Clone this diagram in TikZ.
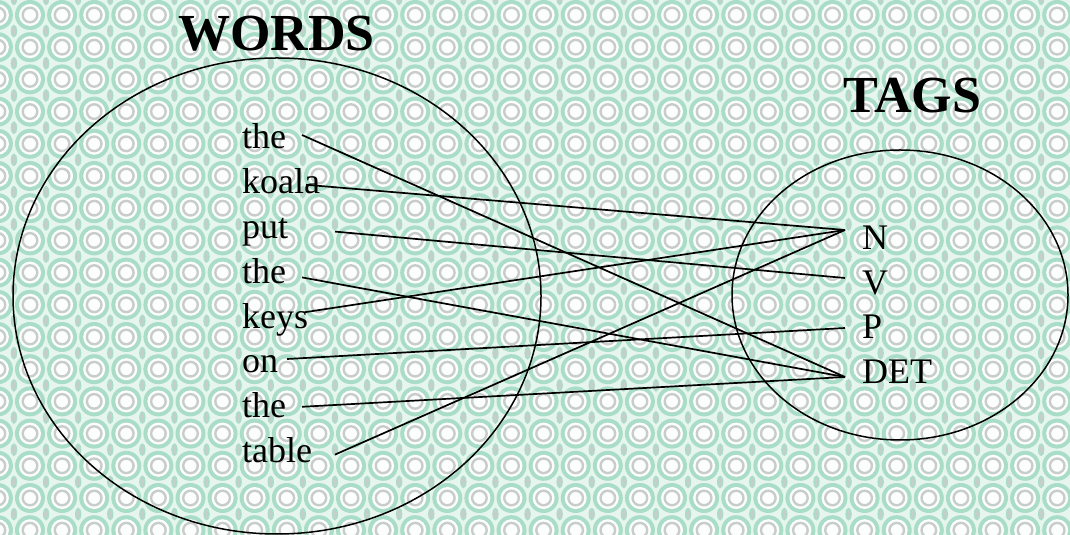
\documentclass[tikz,border=0pt]{standalone}
\usepackage{fontspec}
\setmainfont{Liberation Serif}
\usepackage{tikz}
\usetikzlibrary{positioning,calc}

\definecolor{mint}{RGB}{170,221,199}
\definecolor{paleground}{RGB}{230,246,238}
\definecolor{ringgray}{RGB}{200,205,203}

\begin{document}
\begin{tikzpicture}[
  x=1pt, y=1pt,
  word/.style={anchor=base west, inner sep=0pt, font=\fontsize{36}{40}\selectfont},
  tag/.style={anchor=base west, inner sep=0pt, font=\fontsize{36}{40}\selectfont},
  title/.style={anchor=base west, inner sep=0pt, font=\fontsize{52}{56}\selectfont\bfseries},
  link/.style={line width=1.7pt, black},
  set/.style={line width=1.5pt, black}]

\useasboundingbox (0,0) rectangle (1070,535);

% ---- the patterned ground -------------------------------------------------
\begin{scope}
  \clip (0,0) rectangle (1070,535);
  \fill[paleground] (0,0) rectangle (1070,535);
  \foreach \i in {-1,...,33}{
    \foreach \j in {-1,...,17}{
      \pgfmathsetmacro{\cx}{30+32.1*\i}
      \pgfmathsetmacro{\cy}{520-32.2*\j}
      \fill[mint] (\cx,\cy) circle (15);
      \fill[white!88!paleground] (\cx,\cy) circle (11);
      \draw[ringgray, line width=2.4pt] (\cx,\cy) circle (7.3);
      \filldraw[fill=ringgray, draw=mint, line width=1.5pt]
        (\cx+16.05,\cy-16.1) ellipse (2.5 and 5.5);
    }
  }
\end{scope}

% ---- the two sets ---------------------------------------------------------
\draw[set] (277,239) ellipse (264 and 238);
\draw[set] (900,240) ellipse (168 and 145);

\node[title] (words) at (178,484) {WORDS};
\node[title] (tags)  at (843,422) {TAGS};

% ---- the words of the sentence --------------------------------------------
\foreach \w [count=\k] in {the,koala,put,the,keys,on,the,table}
  \node[word] (w\k) at (242,{386-44.8*(\k-1)}) {\w};

% ---- the tags ---------------------------------------------------------------
\node[tag] (tN) at (862,285)   {N};
\node[tag] (tV) at (862,240.5) {V};
\node[tag] (tP) at (862,196)   {P};
\node[tag] (tD) at (862,151.5) {DET};

% where each line leaves a word, and meets a tag
\coordinate (s1) at ([shift={(60,14)}]w1.base west);
\coordinate (s2) at ([shift={(64,9)}]w2.base west);
\coordinate (s3) at ([shift={(93,7)}]w3.base west);
\coordinate (s4) at ([shift={(60,6)}]w4.base west);
\coordinate (s5) at ([shift={(63,16)}]w5.base west);
\coordinate (s6) at ([shift={(45,14)}]w6.base west);
\coordinate (s7) at ([shift={(60,11)}]w7.base west);
\coordinate (s8) at ([shift={(93,8)}]w8.base west);

\coordinate (eN) at ([shift={(-17,20)}]tN.base west);
\coordinate (eV) at ([shift={(-17,16.5)}]tV.base west);
\coordinate (eP) at ([shift={(-17,11)}]tP.base west);
\coordinate (eD) at ([shift={(-17,6.5)}]tD.base west);

% ---- the tagging --------------------------------------------------------------
\draw[link] (s1) -- (eD);
\draw[link] (s2) -- (eN);
\draw[link] (s3) -- (eV);
\draw[link] (s4) -- (eD);
\draw[link] (s5) -- (eN);
\draw[link] (s6) -- (eP);
\draw[link] (s7) -- (eD);
\draw[link] (s8) -- (eN);

\end{tikzpicture}
\end{document}
